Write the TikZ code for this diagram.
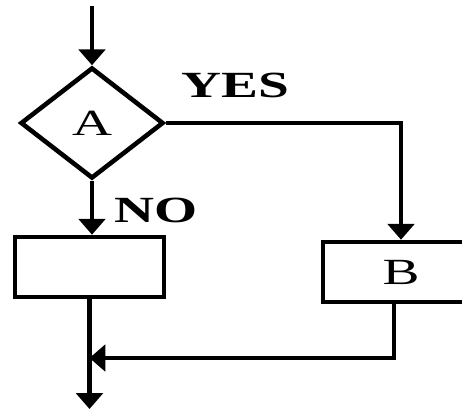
\documentclass[tikz,border=0pt]{standalone}
\usepackage{fontspec}
\setmainfont{Liberation Serif}
\usepackage{graphicx}
\usetikzlibrary{arrows.meta,positioning,shapes.geometric}
\newcommand{\wide}[1]{\scalebox{1.5}[1]{#1}}

\begin{document}
\begin{tikzpicture}[
  line width=2.6pt,
  flow/.style={-{Triangle[width=15pt,length=9pt]}},
  decision/.style={draw, diamond, minimum width=2.86cm, minimum height=2.22cm,
    inner sep=0pt, font=\fontsize{21}{24}\selectfont},
  process/.style={draw, rectangle, minimum height=1.2cm, inner sep=0pt,
    font=\fontsize{21}{24}\selectfont},
  answer/.style={font=\fontsize{21}{24}\selectfont\bfseries}
]

% Frame of the picture
\clip (0,0) rectangle (9.24,-8.22);

% Decision and the two branches
\coordinate (start) at (1.84,-0.12);
\node[decision] (dec) at (1.84,-2.46) {\wide{A}};
\node[process, minimum width=2.98cm] (left) at (1.79,-5.34) {};
\node[process, minimum width=3.12cm] (b) at (8.02,-5.44) {\wide{B}};

% Labels
\node[answer] (yes) at (4.70,-1.70) {\wide{YES}};
\node[answer] (no) at (3.12,-4.20) {\wide{NO}};

% Connectors
\draw[flow] (start) -- (dec.north);
\draw[flow] (dec.south) -- (dec.south |- left.north);
\draw[flow] (dec.east) -| (b.north);
\coordinate (join) at (1.79,-7.16);
\coordinate (out) at (1.79,-8.18);
\draw (left.south) -- (join);
\draw[flow] (join) -- (out);
\draw[flow] ([xshift=-0.14cm]b.south) |- (join);

\end{tikzpicture}
\end{document}
